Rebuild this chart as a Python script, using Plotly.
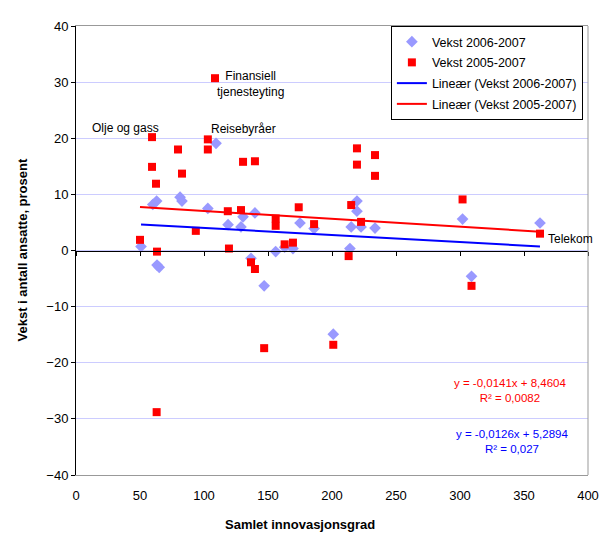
import plotly.graph_objects as go

# Vekst 2006-2007 (blue diamonds)
blue_x = [50.8, 60, 63, 63.3, 65, 81.3, 82.8, 103, 109.4, 118.8, 128.9, 130.5, 136.7, 139.8,
          147, 156, 163, 169.5, 175, 186, 201, 214, 215, 219.5, 219.5, 222.7, 233.6, 302, 309, 362.5]
blue_y = [0.7, 8.2, 8.8, -2.6, -3.0, 9.5, 8.8, 7.5, 19.1, 4.6, 4.2, 6.0, -1.4, 6.7,
          -6.3, -0.2, 0.6, 0.35, 4.9, 3.9, -14.9, 0.35, 4.2, 8.8, 7.0, 4.2, 4.0, 5.6, -4.6, 4.9]

# Vekst 2005-2007 (red squares)
red_x = [50, 59.4, 59.4, 62.5, 63.3, 63, 79.7, 82.8, 93.6, 103, 103, 108.6, 118.6, 119.5,
         128.9, 130.5, 136.7, 139.8, 139.8, 147, 156, 156, 163, 169.5, 174, 186, 201, 213,
         215, 219.5, 219.5, 222.7, 233.6, 233.6, 302, 309, 362.5]
red_y = [1.9, 20.2, 14.9, 11.9, -0.2, -28.8, 18.0, 13.7, 3.5, 19.8, 18.0, 30.7, 7.0, 0.35,
         7.2, 15.8, -2.1, -3.3, 15.9, -17.4, 5.7, 4.4, 1.1, 1.4, 7.7, 4.7, -16.8, -1.0,
         8.1, 18.2, 15.3, 5.1, 17.0, 13.3, 9.1, -6.3, 3.0]

# Trendline coefficients (as printed on chart)
blue_slope, blue_intercept = -0.0126, 5.2894
red_slope, red_intercept = -0.0141, 8.4604

x_ticks = [0, 50, 100, 150, 200, 250, 300, 350, 400]
y_ticks = [-40, -30, -20, -10, 0, 10, 20, 30, 40]

FONT = "Liberation Sans, Arial, sans-serif"

def trend(xs, m, b):
    x0, x1 = min(xs), max(xs)
    return [x0, x1], [m * x0 + b, m * x1 + b]

bx, by = trend(blue_x, blue_slope, blue_intercept)
rx, ry = trend(red_x, red_slope, red_intercept)

fig = go.Figure()
fig.add_trace(go.Scatter(x=blue_x, y=blue_y, mode="markers", name="Vekst 2006-2007",
                         legendgroup="a",
                         marker=dict(symbol="diamond", size=9, color="#9999ff")))
fig.add_trace(go.Scatter(x=red_x, y=red_y, mode="markers", name="Vekst 2005-2007",
                         legendgroup="b",
                         marker=dict(symbol="square", size=8, color="#ff0000")))
fig.add_trace(go.Scatter(x=bx, y=by, mode="lines", name="Lineær (Vekst 2006-2007)",
                         legendgroup="c",
                         line=dict(color="#0000ff", width=2)))
fig.add_trace(go.Scatter(x=rx, y=ry, mode="lines", name="Lineær (Vekst 2005-2007)",
                         legendgroup="d",
                         line=dict(color="#ff0000", width=2)))
# dummy trace to activate the zero-line axis with ticks
fig.add_trace(go.Scatter(x=[0], y=[0], xaxis="x2", yaxis="y", mode="markers",
                         marker=dict(opacity=0), showlegend=False, hoverinfo="skip"))

fig.update_layout(
    width=605, height=526,
    margin=dict(l=68, r=25, t=11, b=59),
    paper_bgcolor="white", plot_bgcolor="white",
    font=dict(family=FONT, size=12, color="black"),
    xaxis=dict(range=[0, 400], tickvals=x_ticks, showgrid=False, zeroline=False,
               showline=True, linecolor="#999999", linewidth=1, mirror=True,
               ticks="", tickfont=dict(size=13), ticklabelstandoff=8),
    xaxis2=dict(range=[0, 400], tickvals=x_ticks, overlaying="x", anchor="free",
                position=0.5, side="bottom", showgrid=False, zeroline=False,
                showline=True, linecolor="#000000", linewidth=1,
                ticks="outside", ticklen=4, tickcolor="#000000", showticklabels=False),
    yaxis=dict(range=[-40, 40], tickvals=y_ticks, showgrid=True, gridcolor="#ccccff",
               zeroline=False, showline=True, linecolor="#000000", linewidth=1,
               ticks="outside", ticklen=4, tickcolor="#000000", tickfont=dict(size=13)),
    legend=dict(x=0.99, y=1.0, xanchor="right", yanchor="top",
                bgcolor="white", bordercolor="black", borderwidth=1,
                font=dict(size=12.5), itemwidth=30, tracegroupgap=1.5,
                traceorder="grouped"),
    showlegend=True,
)

# right border in gray
fig.add_shape(type="line", xref="paper", yref="paper", x0=1, x1=1, y0=0, y1=1,
              line=dict(color="#999999", width=1))

ann = [
    dict(x=136.7, y=29.6, text="Finansiell<br>tjenesteyting", color="black", size=12),
    dict(x=38.7, y=21.9, text="Olje og gass", color="black", size=12),
    dict(x=130.5, y=21.6, text="Reisebyråer", color="black", size=12),
    dict(x=386.7, y=2.1, text="Telekom", color="black", size=12),
    dict(x=339, y=-25.0, text="y = -0,0141x + 8,4604<br>R² = 0,0082", color="#ff0000", size=11.5),
    dict(x=340.6, y=-34.0, text="y = -0,0126x + 5,2894<br>R² = 0,027", color="#0000ff", size=11.5),
]
for a in ann:
    fig.add_annotation(x=a["x"], y=a["y"], xref="x", yref="y", text=a["text"], showarrow=False,
                       font=dict(color=a["color"], size=a["size"], family=FONT),
                       align="center", xanchor="center", yanchor="middle")

# axis titles (positions relative to plot area: 512 x 456 px)
fig.add_annotation(x=(300 - 76) / 512, y=(475 - 525) / 456, xref="paper", yref="paper",
                   text="<b>Samlet innovasjonsgrad</b>", showarrow=False,
                   font=dict(size=13, family=FONT), xanchor="center", yanchor="middle")
fig.add_annotation(x=(22 - 76) / 512, y=(475 - 247) / 456, xref="paper", yref="paper",
                   text="<b>Vekst i antall ansatte, prosent</b>", textangle=-90,
                   showarrow=False, font=dict(size=13, family=FONT),
                   xanchor="center", yanchor="middle")

fig.write_html("out.html")
